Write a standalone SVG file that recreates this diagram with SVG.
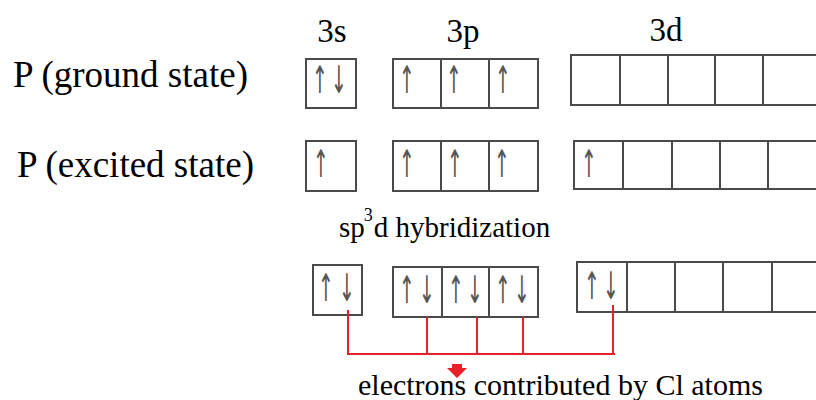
<svg xmlns="http://www.w3.org/2000/svg" width="816" height="400" viewBox="0 0 816 400">
<rect width="816" height="400" fill="#fff"/>
<text x="332" y="42" font-size="33" text-anchor="middle" font-family="Liberation Serif">3s</text>
<text x="463" y="42" font-size="33" text-anchor="middle" font-family="Liberation Serif">3p</text>
<text x="666" y="41" font-size="33" text-anchor="middle" font-family="Liberation Serif">3d</text>
<text x="13" y="87" font-size="37" font-family="Liberation Serif">P (ground state)</text>
<text x="17" y="177" font-size="37" font-family="Liberation Serif">P (excited state)</text>
<text x="339" y="237" font-size="29" font-family="Liberation Serif">sp<tspan font-size="18" dy="-16" dx="-1">3</tspan><tspan dy="16" dx="1">d hybridization</tspan></text>
<text x="358" y="395" font-size="30" font-family="Liberation Serif">electrons contributed by Cl atoms</text>
<g id="boxes" fill="none" stroke="#4a4a4a" stroke-width="2">
<g id="g3s"><rect x="306" y="59" width="50" height="49"/></g>
<g id="g3p"><rect x="393" y="59" width="145" height="49"/><path d="M441 59 V108 M489 59 V108"/></g>
<g id="g3d"><path d="M818 55 H571 V105 H818 M620 55 V105 M668 55 V105 M715 55 V105 M763 55 V105"/></g>
<g id="e3s"><rect x="306" y="141" width="50" height="50"/></g>
<g id="e3p"><rect x="393" y="141" width="145" height="50"/><path d="M441 141 V191 M489 141 V191"/></g>
<g id="e3d"><path d="M818 141 H574 V189 H818 M623 141 V189 M672 141 V189 M720 141 V189 M768 141 V189"/></g>
<g id="h3s"><rect x="313" y="265" width="49" height="50"/></g>
<g id="h3p"><rect x="393" y="267" width="145" height="50"/><path d="M442 267 V317 M489 267 V317"/></g>
<g id="h3d"><path d="M818 262 H577 V312 H818 M627 262 V312 M675 262 V312 M723 262 V312 M772 262 V312"/></g>
</g>
<g id="electrons" font-family="DejaVu Sans" font-size="38" fill="#555" text-anchor="middle">
<text transform="translate(320 93) scale(0.5 1)">↑</text><text transform="translate(339 93) scale(0.5 1)">↓</text>
<text transform="translate(407 93) scale(0.5 1)">↑</text><text transform="translate(454 93) scale(0.5 1)">↑</text><text transform="translate(503 93) scale(0.5 1)">↑</text>
<text transform="translate(321 177) scale(0.5 1)">↑</text>
<text transform="translate(407 177) scale(0.5 1)">↑</text><text transform="translate(455 177) scale(0.5 1)">↑</text><text transform="translate(502 177) scale(0.5 1)">↑</text>
<text transform="translate(589 177) scale(0.5 1)">↑</text>
<text transform="translate(326 301) scale(0.5 1)">↑</text><text transform="translate(347 301) scale(0.5 1)">↓</text>
<text transform="translate(407 303) scale(0.5 1)">↑</text><text transform="translate(427 303) scale(0.5 1)">↓</text>
<text transform="translate(456 303) scale(0.5 1)">↑</text><text transform="translate(475 303) scale(0.5 1)">↓</text>
<text transform="translate(503 303) scale(0.5 1)">↑</text><text transform="translate(522 303) scale(0.5 1)">↓</text>
<text transform="translate(592 299) scale(0.5 1)">↑</text><text transform="translate(611 299) scale(0.5 1)">↓</text>
</g>
<g id="connectors" stroke="#e8202a" stroke-width="2" fill="none">
<path d="M348 310 V354 H615 M427 317 V354 M477 317 V354 M523 317 V354 M613 305 V354"/>
<path d="M452 364 H462 V368 H467 L457 378 L447 368 H452 Z" fill="#e8202a" stroke="none"/>
</g>
</svg>
